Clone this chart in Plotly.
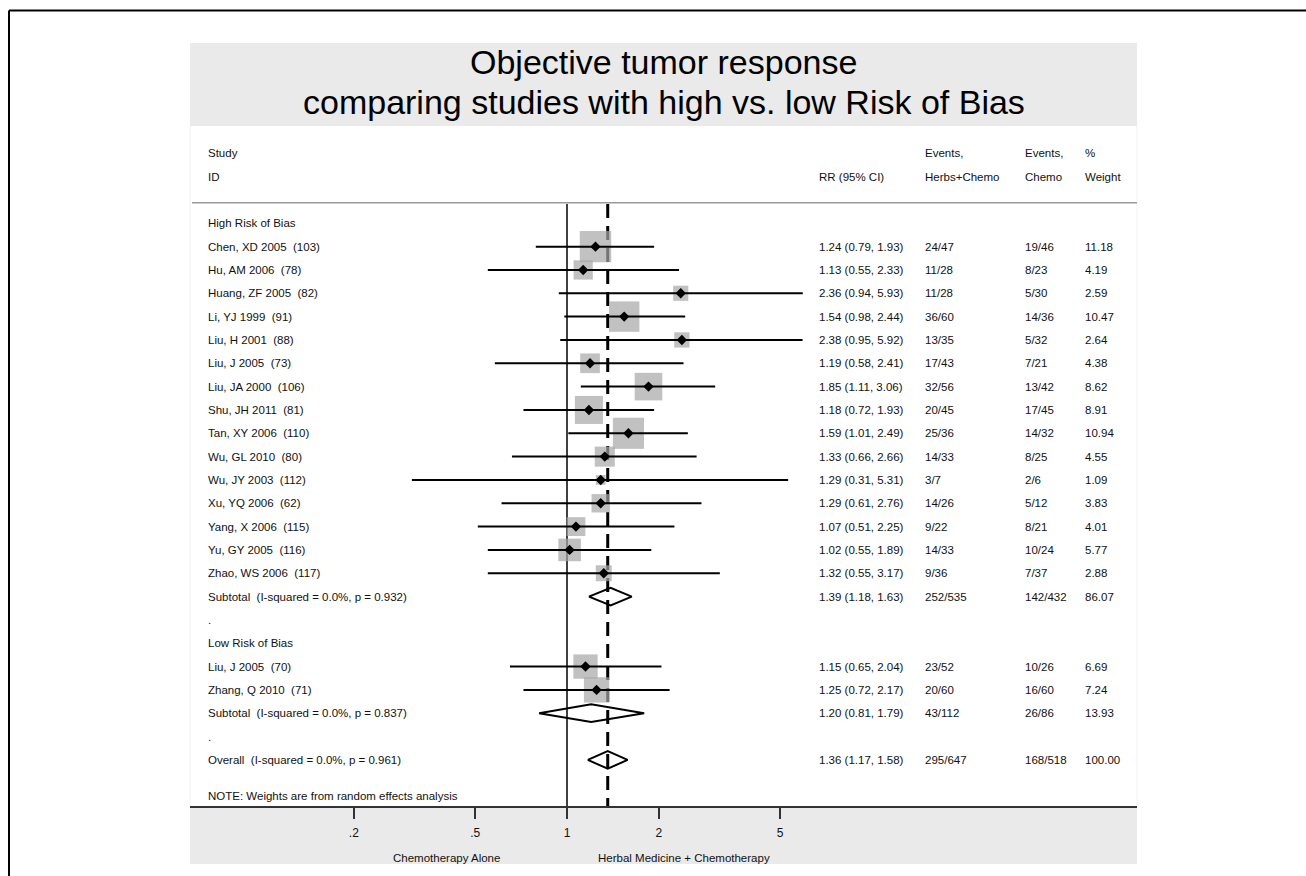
import math
import plotly.graph_objects as go

# ---------------- data ----------------
high_studies = ["Chen, XD 2005  (103)", "Hu, AM 2006  (78)", "Huang, ZF 2005  (82)",
                "Li, YJ 1999  (91)", "Liu, H 2001  (88)", "Liu, J 2005  (73)",
                "Liu, JA 2000  (106)", "Shu, JH 2011  (81)", "Tan, XY 2006  (110)",
                "Wu, GL 2010  (80)", "Wu, JY 2003  (112)", "Xu, YQ 2006  (62)",
                "Yang, X 2006  (115)", "Yu, GY 2005  (116)", "Zhao, WS 2006  (117)"]
high_rr = [1.24, 1.13, 2.36, 1.54, 2.38, 1.19, 1.85, 1.18, 1.59, 1.33, 1.29, 1.29, 1.07, 1.02, 1.32]
high_lo = [0.79, 0.55, 0.94, 0.98, 0.95, 0.58, 1.11, 0.72, 1.01, 0.66, 0.31, 0.61, 0.51, 0.55, 0.55]
high_hi = [1.93, 2.33, 5.93, 2.44, 5.92, 2.41, 3.06, 1.93, 2.49, 2.66, 5.31, 2.76, 2.25, 1.89, 3.17]
high_ev_herb = ["24/47", "11/28", "11/28", "36/60", "13/35", "17/43", "32/56", "20/45",
                "25/36", "14/33", "3/7", "14/26", "9/22", "14/33", "9/36"]
high_ev_chemo = ["19/46", "8/23", "5/30", "14/36", "5/32", "7/21", "13/42", "17/45",
                 "14/32", "8/25", "2/6", "5/12", "8/21", "10/24", "7/37"]
high_weight = [11.18, 4.19, 2.59, 10.47, 2.64, 4.38, 8.62, 8.91, 10.94, 4.55, 1.09, 3.83,
               4.01, 5.77, 2.88]

low_studies = ["Liu, J 2005  (70)", "Zhang, Q 2010  (71)"]
low_rr = [1.15, 1.25]
low_lo = [0.65, 0.72]
low_hi = [2.04, 2.17]
low_ev_herb = ["23/52", "20/60"]
low_ev_chemo = ["10/26", "16/60"]
low_weight = [6.69, 7.24]

group_names = ["High Risk of Bias", "Low Risk of Bias"]
subtotal_labels = ["Subtotal  (I-squared = 0.0%, p = 0.932)",
                   "Subtotal  (I-squared = 0.0%, p = 0.837)"]
subtotal_rr = [1.39, 1.20]
subtotal_lo = [1.18, 0.81]
subtotal_hi = [1.63, 1.79]
subtotal_ev_herb = ["252/535", "43/112"]
subtotal_ev_chemo = ["142/432", "26/86"]
subtotal_weight = [86.07, 13.93]

overall_label = "Overall  (I-squared = 0.0%, p = 0.961)"
overall_rr = 1.36
overall_lo = 1.17
overall_hi = 1.58
overall_ev_herb = "295/647"
overall_ev_chemo = "168/518"
overall_weight = 100.00

tick_values = [0.2, 0.5, 1, 2, 5]
tick_labels = [".2", ".5", "1", "2", "5"]

# ---------------- page geometry (pixels) ----------------
W, H = 1306, 876
PL, PR, PT, PB = 190, 1137, 126, 806          # plot region
ROW0, ROWH = 223.3, 23.33                     # first row centre, row pitch
X_ONE, PX_DEC = 567, 305                      # pixel of RR=1, pixels per decade

def paper_x(px):
    return (px - PL) / (PR - PL)

def paper_y(py):
    return (PB - py) / (PB - PT)

def row_of(py):
    return (py - ROW0) / ROWH

x_range = [(PL - X_ONE) / PX_DEC, (PR - X_ONE) / PX_DEC]
y_range = [row_of(PB), row_of(PT)]

FONT = "Liberation Sans, Arial, Helvetica, sans-serif"
TXT = "#111111"
FS = 11.5

# ---------------- row layout ----------------
rows = []   # (row, kind, label, rr, lo, hi, ev_herb, ev_chemo, weight)
r = 0
groups = [
    (high_studies, high_rr, high_lo, high_hi, high_ev_herb, high_ev_chemo, high_weight),
    (low_studies, low_rr, low_lo, low_hi, low_ev_herb, low_ev_chemo, low_weight),
]
for g, (names, rr, lo, hi, eh, ec, wt) in enumerate(groups):
    rows.append((r, "group", group_names[g], None, None, None, "", "", None))
    r += 1
    for i in range(len(names)):
        rows.append((r, "study", names[i], rr[i], lo[i], hi[i], eh[i], ec[i], wt[i]))
        r += 1
    rows.append((r, "subtotal", subtotal_labels[g], subtotal_rr[g], subtotal_lo[g],
                 subtotal_hi[g], subtotal_ev_herb[g], subtotal_ev_chemo[g], subtotal_weight[g]))
    r += 1
    rows.append((r, "dot", ".", None, None, None, "", "", None))
    r += 1
rows.append((r, "overall", overall_label, overall_rr, overall_lo, overall_hi,
             overall_ev_herb, overall_ev_chemo, overall_weight))
note_row = r + 1.55

fig = go.Figure()

line_top = row_of(204)

# reference lines: no effect (solid) and pooled estimate (dashed)
fig.add_trace(go.Scatter(x=[1, 1], y=[line_top, y_range[0]], mode="lines",
                         line=dict(color="black", width=1.5), hoverinfo="skip"))
fig.add_trace(go.Scatter(x=[overall_rr, overall_rr], y=[line_top, y_range[0]], mode="lines",
                         line=dict(color="black", width=3, dash="14px,8px"), hoverinfo="skip"))

study_rows = [row for row in rows if row[1] == "study"]

# weight boxes (area proportional to weight)
fig.add_trace(go.Scatter(
    x=[s[3] for s in study_rows], y=[s[0] for s in study_rows], mode="markers",
    marker=dict(symbol="square", color="#a6a6a6",
                size=[9.4 * math.sqrt(s[8]) for s in study_rows], line=dict(width=0)),
    hoverinfo="skip"))

# confidence intervals
for s in study_rows:
    fig.add_trace(go.Scatter(x=[s[4], s[5]], y=[s[0], s[0]], mode="lines",
                             line=dict(color="black", width=2), hoverinfo="skip"))

# point estimates
fig.add_trace(go.Scatter(
    x=[s[3] for s in study_rows], y=[s[0] for s in study_rows], mode="markers",
    marker=dict(symbol="diamond", color="black", size=8), hoverinfo="skip"))

# pooled diamonds
half = 0.38
for s in rows:
    if s[1] in ("subtotal", "overall"):
        fig.add_trace(go.Scatter(
            x=[s[4], s[3], s[5], s[3], s[4]],
            y=[s[0], s[0] - half, s[0], s[0] + half, s[0]],
            mode="lines", line=dict(color="black", width=2), hoverinfo="skip"))

# ---------------- text columns ----------------
ann = []

def text(t, px, row, size=FS, anchor="left"):
    ann.append(dict(text=t, x=paper_x(px), xref="paper", y=row, yref="y",
                    xanchor=anchor, yanchor="middle", showarrow=False,
                    font=dict(family=FONT, size=size, color=TXT)))

COL_ID, COL_RR, COL_EH, COL_EC, COL_W = 206, 817, 923, 1023, 1083

text("Study", COL_ID, -3)
text("ID", COL_ID, -2)
text("RR (95% CI)", COL_RR, -2)
text("Events,", COL_EH, -3)
text("Herbs+Chemo", COL_EH, -2)
text("Events,", COL_EC, -3)
text("Chemo", COL_EC, -2)
text("%", COL_W, -3)
text("Weight", COL_W, -2)

for s in rows:
    text(s[2], COL_ID, s[0])
    if s[3] is not None:
        text(f"{s[3]:.2f} ({s[4]:.2f}, {s[5]:.2f})", COL_RR, s[0])
        text(s[6], COL_EH, s[0])
        text(s[7], COL_EC, s[0])
        text(f"{s[8]:.2f}", COL_W, s[0])

text("NOTE: Weights are from random effects analysis", COL_ID, note_row)

# title
for t, py in (("Objective tumor response", 62),
              ("comparing studies with high vs. low Risk of Bias", 102)):
    ann.append(dict(text=t, x=0.5, xref="paper", y=paper_y(py), yref="paper",
                    xanchor="center", yanchor="middle", showarrow=False,
                    font=dict(family=FONT, size=34, color="black")))

# favours labels
for t, px in (("Chemotherapy Alone", 446), ("Herbal Medicine + Chemotherapy", 683.5)):
    ann.append(dict(text=t, x=paper_x(px), xref="paper", y=paper_y(857.7), yref="paper",
                    xanchor="center", yanchor="middle", showarrow=False,
                    font=dict(family=FONT, size=FS, color=TXT)))

# ---------------- shapes ----------------
shapes = [
    # title band
    dict(type="rect", xref="paper", yref="paper", x0=0, x1=1,
         y0=paper_y(126), y1=paper_y(43), fillcolor="#eaeaea", line=dict(width=0),
         layer="below"),
    # axis band
    dict(type="rect", xref="paper", yref="paper", x0=0, x1=1,
         y0=paper_y(864), y1=paper_y(806), fillcolor="#eaeaea", line=dict(width=0),
         layer="below"),
    # faint plot-region edges
    dict(type="line", xref="paper", yref="paper", x0=0, x1=0, y0=0, y1=1,
         line=dict(color="#f2f2f2", width=1)),
    dict(type="line", xref="paper", yref="paper", x0=1, x1=1, y0=0, y1=1,
         line=dict(color="#f2f2f2", width=1)),
    # header rule
    dict(type="line", xref="paper", yref="y", x0=paper_x(192), x1=1,
         y0=row_of(202.7), y1=row_of(202.7), line=dict(color="#9a9a9a", width=1.5)),
    # outer frame (top and left edges)
    dict(type="line", xref="paper", yref="paper", x0=paper_x(9), x1=paper_x(1320),
         y0=paper_y(10.5), y1=paper_y(10.5), line=dict(color="black", width=2)),
    dict(type="line", xref="paper", yref="paper", x0=paper_x(9), x1=paper_x(9),
         y0=paper_y(10.5), y1=paper_y(900), line=dict(color="black", width=2)),
]

fig.update_layout(
    width=W, height=H,
    margin=dict(l=PL, r=W - PR, t=PT, b=H - PB, pad=0),
    paper_bgcolor="white", plot_bgcolor="white",
    showlegend=False,
    annotations=ann, shapes=shapes,
    font=dict(family=FONT, size=FS, color=TXT),
    xaxis=dict(type="log", range=x_range, tickvals=tick_values, ticktext=tick_labels,
               ticks="outside", ticklen=11, tickwidth=2, tickcolor="#333333",
               ticklabelstandoff=4,
               showline=True, linecolor="#333333", linewidth=2, mirror=False,
               showgrid=False, zeroline=False, fixedrange=True,
               tickfont=dict(family=FONT, size=12, color=TXT)),
    yaxis=dict(range=y_range, showticklabels=False, showgrid=False, zeroline=False,
               showline=False, ticks="", fixedrange=True),
)

fig.write_html("out.html")
